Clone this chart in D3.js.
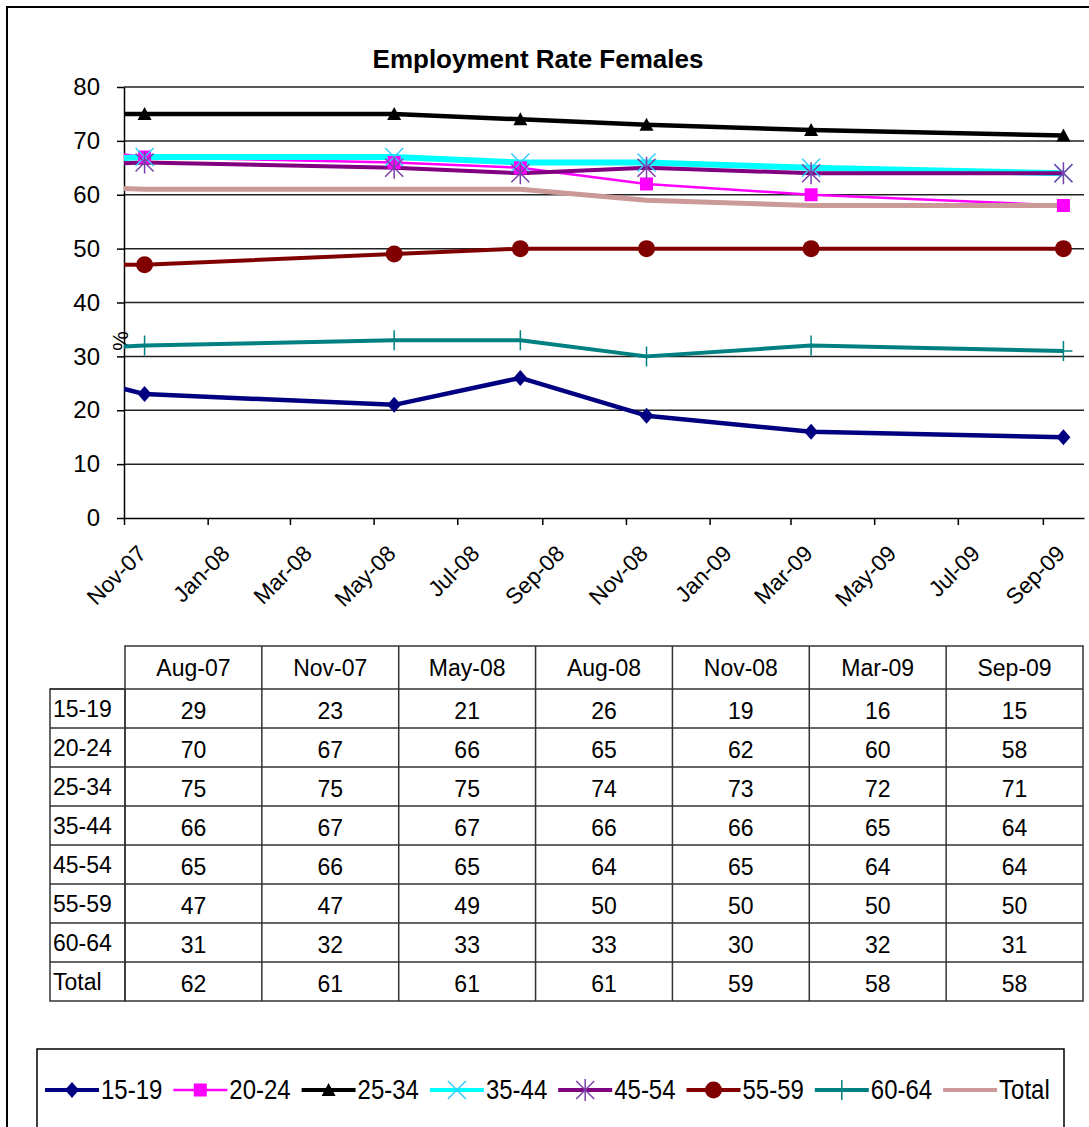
<!DOCTYPE html>
<html>
<head>
<meta charset="utf-8">
<script src="https://cdn.jsdelivr.net/npm/d3@7"></script>
<style>
  body { margin: 0; background: #fff; }
  svg { display: block; font-family: Arial, "Liberation Sans", sans-serif; }
</style>
</head>
<body>
<svg id="chart"></svg>
<script>
const periods = ["Aug-07", "Nov-07", "May-08", "Aug-08", "Nov-08", "Mar-09", "Sep-09"];
const seriesNames = ["15-19", "20-24", "25-34", "35-44", "45-54", "55-59", "60-64", "Total"];
const rate15_19 = [29, 23, 21, 26, 19, 16, 15];
const rate20_24 = [70, 67, 66, 65, 62, 60, 58];
const rate25_34 = [75, 75, 75, 74, 73, 72, 71];
const rate35_44 = [66, 67, 67, 66, 66, 65, 64];
const rate45_54 = [65, 66, 65, 64, 65, 64, 64];
const rate55_59 = [47, 47, 49, 50, 50, 50, 50];
const rate60_64 = [31, 32, 33, 33, 30, 32, 31];
const rateTotal = [62, 61, 61, 61, 59, 58, 58];
const yTicks = [0, 10, 20, 30, 40, 50, 60, 70, 80];

const allValues = [rate15_19, rate20_24, rate25_34, rate35_44, rate45_54, rate55_59, rate60_64, rateTotal];

/* basic setup */
const svgWidth = 1089, svgHeight = 1127;
const svg = d3.select("#chart").attr("width", svgWidth).attr("height", svgHeight);

const plot = {left: 124, right: 1084, top: 87, bottom: 518};

// series look, same order as seriesNames
const styles = [
  {color: "#000080", width: 4.5, marker: "diamond"},
  {color: "#ff00ff", width: 2.5, marker: "square"},
  {color: "#000000", width: 4.5, marker: "triangle"},
  {color: "#00ffff", width: 6,   marker: "x", markerColor: "#33ccff"},
  {color: "#800080", width: 4,   marker: "star", markerColor: "#7a3fa8"},
  {color: "#800000", width: 4,   marker: "circle"},
  {color: "#008080", width: 4,   marker: "plus"},
  {color: "#cc9999", width: 5,   marker: null}
];

const parseMonth = d3.timeParse("%b-%y");
// observations are plotted mid-month
const dates = periods.map(p => d3.timeDay.offset(parseMonth(p), 15));

const series = seriesNames.map((name, i) => ({
  name: name,
  style: styles[i],
  values: allValues[i].map((v, j) => ({date: dates[j], value: v}))
}));

// outer frame
svg.append("rect")
  .attr("x", 7).attr("y", 7)
  .attr("width", 1100).attr("height", 1140)
  .attr("fill", "none").attr("stroke", "#000").attr("stroke-width", 2);

// title
svg.append("text")
  .attr("x", 538).attr("y", 68)
  .attr("text-anchor", "middle")
  .attr("font-size", 26).attr("font-weight", "bold")
  .text("Employment Rate Females");

/* scales */
const x = d3.scaleTime()
  .domain([new Date(2007, 10, 1), new Date(2009, 9, 1)])
  .range([plot.left, plot.right]);

const y = d3.scaleLinear()
  .domain([0, 80])
  .range([plot.bottom, plot.top]);

// gridlines
svg.append("g")
  .selectAll("line")
  .data(yTicks.filter(t => t > 0))
  .enter()
  .append("line")
  .attr("x1", plot.left).attr("x2", plot.right)
  .attr("y1", d => y(d)).attr("y2", d => y(d))
  .attr("stroke", "#222").attr("stroke-width", 1.5);

// y axis
const yAxis = svg.append("g")
  .attr("transform", "translate(" + plot.left + ",0)")
  .call(d3.axisLeft(y).tickValues(yTicks).tickSize(7).tickSizeOuter(0).tickPadding(17));
yAxis.selectAll("text").attr("font-size", 24).attr("fill", "#000").attr("font-family", "Arial, 'Liberation Sans', sans-serif");
yAxis.selectAll("line").attr("stroke", "#000").attr("stroke-width", 1.5);
yAxis.select(".domain").attr("stroke", "#000").attr("stroke-width", 1.5);

// x axis
const xAxis = svg.append("g")
  .attr("transform", "translate(0," + plot.bottom + ")")
  .call(d3.axisBottom(x)
    .ticks(d3.timeMonth.every(2))
    .tickFormat(d3.timeFormat("%b-%y"))
    .tickSize(7).tickSizeOuter(0));
xAxis.selectAll("line").attr("stroke", "#000").attr("stroke-width", 1.5);
xAxis.select(".domain").attr("stroke", "#000").attr("stroke-width", 1.5);
xAxis.selectAll("text")
  .attr("font-size", 22.5).attr("fill", "#000")
  .attr("font-family", "Arial, 'Liberation Sans', sans-serif")
  .attr("text-anchor", "end")
  .attr("x", 0).attr("y", 0).attr("dy", 0)
  .attr("transform", "translate(23,37) rotate(-45)");

// "%" axis title
svg.append("text")
  .attr("transform", "translate(128,341) rotate(-90)")
  .attr("text-anchor", "middle")
  .attr("font-size", 22)
  .text("%");

/* lines and markers */
svg.append("defs").append("clipPath").attr("id", "plotClip")
  .append("rect")
  .attr("x", plot.left).attr("y", plot.top - 20)
  .attr("width", plot.right - plot.left + 20)
  .attr("height", plot.bottom - plot.top + 20);

const line = d3.line().x(d => x(d.date)).y(d => y(d.value));

const plotArea = svg.append("g").attr("clip-path", "url(#plotClip)");

plotArea.selectAll("path.series")
  .data(series)
  .enter()
  .append("path")
  .attr("class", "series")
  .attr("d", d => line(d.values))
  .attr("fill", "none")
  .attr("stroke", d => d.style.color)
  .attr("stroke-width", d => d.style.width)
  .attr("stroke-linejoin", "round");

function markerPath(kind) {
  switch (kind) {
    case "diamond": return "M0,-8L7,0L0,8L-7,0Z";
    case "square": return "M-6.5,-6.5H6.5V6.5H-6.5Z";
    case "triangle": return "M0,-7L7,6H-7Z";
    case "x": return "M-9,-9L9,9M-9,9L9,-9";
    case "star": return "M-9,-9L9,9M-9,9L9,-9M0,-11V11";
    case "plus": return "M0,-10V10M-9,0H9";
    default: return null;
  }
}

function drawMarker(g, style) {
  if (!style.marker) return;
  if (style.marker === "circle") {
    g.append("circle").attr("r", 8.5).attr("fill", style.color);
    return;
  }
  const stroked = ["x", "star", "plus"].includes(style.marker);
  g.append("path")
    .attr("d", markerPath(style.marker))
    .attr("fill", stroked ? "none" : style.color)
    .attr("stroke", stroked ? (style.markerColor || style.color) : "none")
    .attr("stroke-width", 1.5);
}

series.forEach(s => {
  plotArea.selectAll(null)
    .data(s.values)
    .enter()
    .append("g")
    .attr("transform", d => "translate(" + x(d.date) + "," + y(d.value) + ")")
    .each(function() { drawMarker(d3.select(this), s.style); });
});

/* data table */
const table = {left: 50, headLeft: 125, right: 1083, top: 646, headBottom: 689, rowH: 39};
const col = d3.scaleBand().domain(periods).range([table.headLeft, table.right]);
const row = d3.scaleBand().domain(seriesNames).range([table.headBottom, table.headBottom + table.rowH * seriesNames.length]);

const tg = svg.append("g").attr("font-size", 23);
const tableBottom = table.headBottom + table.rowH * seriesNames.length;
const lineStroke = "#333";

// header row cells
tg.append("rect")
  .attr("x", table.headLeft).attr("y", table.top)
  .attr("width", table.right - table.headLeft).attr("height", tableBottom - table.top)
  .attr("fill", "none").attr("stroke", lineStroke).attr("stroke-width", 1.5);
tg.append("rect")
  .attr("x", table.left).attr("y", table.headBottom)
  .attr("width", table.headLeft - table.left).attr("height", tableBottom - table.headBottom)
  .attr("fill", "none").attr("stroke", lineStroke).attr("stroke-width", 1.5);

tg.selectAll("line.col")
  .data(periods.slice(1))
  .enter().append("line")
  .attr("x1", d => col(d)).attr("x2", d => col(d))
  .attr("y1", table.top).attr("y2", tableBottom)
  .attr("stroke", lineStroke).attr("stroke-width", 1.5);

tg.selectAll("line.row")
  .data(seriesNames)
  .enter().append("line")
  .attr("x1", table.left).attr("x2", table.right)
  .attr("y1", d => row(d)).attr("y2", d => row(d))
  .attr("stroke", lineStroke).attr("stroke-width", 1.5);

tg.selectAll("text.head")
  .data(periods)
  .enter().append("text")
  .attr("x", d => col(d) + col.bandwidth() / 2)
  .attr("y", (table.top + table.headBottom) / 2)
  .attr("dy", "0.35em")
  .attr("text-anchor", "middle")
  .text(d => d);

tg.selectAll("text.rowhead")
  .data(seriesNames)
  .enter().append("text")
  .attr("x", table.left + 3)
  .attr("y", d => row(d) + row.bandwidth() / 2)
  .attr("dy", "0.35em")
  .text(d => d);

series.forEach(s => {
  tg.selectAll(null)
    .data(s.values)
    .enter().append("text")
    .attr("x", (d, j) => col(periods[j]) + col.bandwidth() / 2)
    .attr("y", row(s.name) + row.bandwidth() / 2 + 2)
    .attr("dy", "0.35em")
    .attr("text-anchor", "middle")
    .text(d => d.value);
});

/* legend */
svg.append("rect")
  .attr("x", 37).attr("y", 1049)
  .attr("width", 1027).attr("height", 120)
  .attr("fill", "none").attr("stroke", "#000").attr("stroke-width", 1.5);

const legendX = d3.scaleLinear().domain([0, 1]).range([45, 173.3]);
const legendY = 1090;

const legendItems = svg.selectAll("g.legend")
  .data(series)
  .enter()
  .append("g")
  .attr("class", "legend")
  .attr("transform", (d, i) => "translate(" + legendX(i) + "," + legendY + ")");

legendItems.append("line")
  .attr("x1", 0).attr("x2", 54)
  .attr("stroke", d => d.style.color)
  .attr("stroke-width", d => Math.min(d.style.width, 4));

legendItems.each(function(d) {
  const m = d3.select(this).append("g").attr("transform", "translate(27,0)");
  drawMarker(m, d.style);
});

legendItems.append("text")
  .attr("x", 56)
  .attr("dy", "0.35em")
  .attr("font-size", 24)
  .attr("transform", "scale(1,1.12)")
  .text(d => d.name);
</script>
</body>
</html>
